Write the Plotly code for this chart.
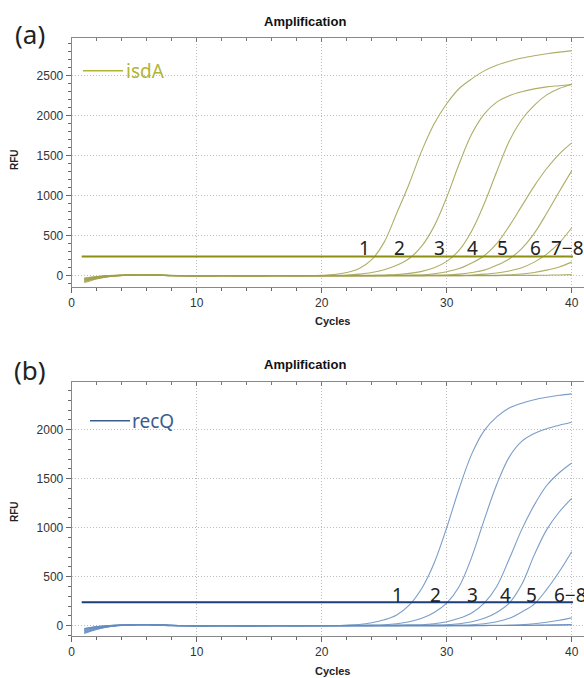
import plotly.graph_objects as go

# ---------------- data ----------------
cycles = list(range(1, 41))

# Panel (a): isdA RFU per cycle, dilutions 1..8
isdA_1 = [-70, -30, -8, 4, 10, 12, 8, 3, 0, -2, -1, 0, -1, -2, -1, 0, 0, -1, 0,
          5, 15, 40, 90, 200, 420, 780, 1150, 1560, 1900, 2150, 2340, 2460, 2560, 2630, 2680, 2720, 2750, 2775, 2795, 2810]
isdA_2 = [-45, -18, -2, 6, 11, 11, 7, 2, 0, -1, 0, 1, 0, -1, 0, 1, 0, 0, 1,
          2, 4, 8, 20, 40, 75, 130, 215, 370, 620, 980, 1400, 1770, 2020, 2170, 2250, 2300, 2335, 2360, 2375, 2390]
isdA_3 = [-85, -40, -12, 2, 9, 13, 9, 4, 1, -2, -2, -1, -2, -3, -2, -1, -1, -2, -1,
          0, 1, 2, 4, 7, 10, 15, 30, 55, 100, 180, 320, 560, 900, 1300, 1680, 1950, 2130, 2260, 2340, 2390]
isdA_4 = [-30, -10, 2, 8, 12, 10, 6, 1, -1, -1, 1, 1, 1, 0, 1, 1, 1, 1, 1,
          0, 0, 1, 1, 2, 3, 5, 7, 10, 25, 50, 90, 160, 250, 400, 620, 870, 1120, 1340, 1520, 1660]
isdA_5 = [-60, -25, -5, 5, 11, 12, 8, 3, 0, -1, -1, 0, -1, -1, -1, 0, 0, 0, 0,
          0, 0, 0, 1, 1, 2, 3, 4, 6, 8, 10, 20, 40, 70, 130, 210, 340, 530, 780, 1050, 1310]
isdA_6 = [-50, -20, -3, 6, 10, 11, 7, 2, 0, -1, 0, 0, 0, -1, 0, 0, 0, 0, 0,
          0, 0, 0, 0, 1, 1, 1, 2, 2, 3, 4, 6, 10, 20, 35, 60, 100, 170, 270, 410, 600]
isdA_7 = [-75, -35, -10, 3, 9, 12, 8, 3, 0, -2, -2, -1, -1, -2, -2, -1, -1, -1, -1,
          -1, -1, 0, 0, 0, 0, 0, 1, 1, 1, 2, 2, 3, 4, 5, 12, 22, 40, 70, 110, 170]
isdA_8 = [-35, -12, 1, 7, 11, 10, 6, 1, -1, -1, 0, 1, 0, 0, 0, 0, 0, 0, 0,
          0, 0, 0, 0, 0, 0, 0, 0, 0, 1, 1, 1, 1, 2, 2, 3, 4, 5, 7, 10, 14]

# Panel (b): recQ RFU per cycle, dilutions 1..8
recQ_1 = [-65, -28, -7, 4, 9, 11, 8, 3, 0, -2, -1, 0, -1, -2, -1, 0, 0, -1, 0,
          0, 1, 5, 12, 30, 60, 110, 210, 380, 640, 1000, 1400, 1750, 1990, 2130, 2220, 2270, 2305, 2330, 2350, 2365]
recQ_2 = [-40, -15, -1, 6, 10, 10, 7, 2, 0, -1, 0, 1, 0, -1, 0, 1, 0, 0, 1,
          1, 2, 3, 5, 7, 10, 20, 40, 75, 135, 230, 400, 700, 1080, 1440, 1720, 1880, 1960, 2010, 2045, 2075]
recQ_3 = [-80, -38, -11, 2, 8, 12, 9, 4, 1, -2, -2, -1, -2, -3, -2, -1, -1, -2, -1,
          0, 0, 1, 2, 3, 4, 6, 8, 10, 20, 40, 75, 130, 230, 400, 680, 980, 1230, 1430, 1560, 1660]
recQ_4 = [-28, -9, 2, 8, 11, 10, 6, 1, -1, -1, 1, 1, 1, 0, 1, 1, 1, 1, 1,
          0, 0, 0, 1, 1, 2, 3, 4, 5, 7, 10, 20, 40, 75, 135, 230, 420, 720, 980, 1160, 1300]
recQ_5 = [-55, -22, -4, 5, 10, 11, 8, 3, 0, -1, -1, 0, -1, -1, -1, 0, 0, 0, 0,
          0, 0, 0, 0, 1, 1, 1, 2, 2, 3, 4, 6, 10, 20, 40, 75, 140, 220, 370, 550, 755]
recQ_6 = [-48, -19, -3, 6, 10, 10, 7, 2, 0, -1, 0, 0, 0, -1, 0, 0, 0, 0, 0,
          0, 0, 0, 0, 0, 0, 0, 1, 1, 1, 1, 2, 2, 3, 4, 5, 10, 20, 35, 55, 80]
recQ_7 = [-72, -33, -9, 3, 9, 11, 8, 3, 0, -2, -2, -1, -1, -2, -2, -1, -1, -1, -1,
          -1, -1, 0, 0, 0, 0, 0, 0, 0, 1, 1, 1, 1, 2, 2, 3, 4, 5, 7, 9, 12]
recQ_8 = [-32, -11, 1, 7, 10, 10, 6, 1, -1, -1, 0, 1, 0, 0, 0, 0, 0, 0, 0,
          0, 0, 0, 0, 0, 0, 0, 0, 0, 0, 1, 1, 1, 1, 2, 2, 3, 4, 5, 6, 8]

threshold_a = 240
threshold_b = 240
threshold_span = [0.8, 40.1]

labels_a = ["1", "2", "3", "4", "5", "6", "7\u22128"]
labels_b = ["1", "2", "3", "4", "5", "6\u22128"]

x_ticks = [0, 10, 20, 30, 40]

# ---------------- layout helpers ----------------
W, H = 584, 678
label_x_a = [23.4, 26.2, 29.4, 32.1, 34.5, 37.1, 39.7]
label_x_b = [26.1, 29.1, 32.1, 34.7, 36.8, 39.9]
label_y_a = 345
label_y_b = 315

def py(pix):
    return 1 - pix / H

def px(pix):
    return pix / W

col_a_curve = "rgba(160,160,75,0.85)"
col_a_thr = "#8e8e12"
col_a_txt = "#b3b336"
col_b_curve = "rgba(100,140,192,0.85)"
col_b_thr = "#1e3d7b"
col_b_txt = "#3d5c8e"

fig = go.Figure()

series_a = [isdA_1, isdA_2, isdA_3, isdA_4, isdA_5, isdA_6, isdA_7, isdA_8]
series_b = [recQ_1, recQ_2, recQ_3, recQ_4, recQ_5, recQ_6, recQ_7, recQ_8]

for s in series_a:
    fig.add_trace(go.Scatter(x=cycles, y=s, mode="lines", line=dict(color=col_a_curve, width=1.1, shape="spline"),
                             xaxis="x", yaxis="y", showlegend=False, hoverinfo="skip"))
fig.add_trace(go.Scatter(x=threshold_span, y=[threshold_a, threshold_a], mode="lines",
                         line=dict(color=col_a_thr, width=2), xaxis="x", yaxis="y", showlegend=False))
for s in series_b:
    fig.add_trace(go.Scatter(x=cycles, y=s, mode="lines", line=dict(color=col_b_curve, width=1.1, shape="spline"),
                             xaxis="x2", yaxis="y2", showlegend=False, hoverinfo="skip"))
fig.add_trace(go.Scatter(x=threshold_span, y=[threshold_b, threshold_b], mode="lines",
                         line=dict(color=col_b_thr, width=2), xaxis="x2", yaxis="y2", showlegend=False))
# dummy traces so the top tick axes are drawn
fig.add_trace(go.Scatter(x=[None], y=[None], xaxis="x3", yaxis="y", showlegend=False))
fig.add_trace(go.Scatter(x=[None], y=[None], xaxis="x4", yaxis="y2", showlegend=False))

tickfont = dict(family="Liberation Sans, Arial", size=12, color="#333")
xr = [0, (W - 71.7) / 12.5]
xdom = [px(71.7), 1.0]
grid_dash = "1px,2px"
grid_col = "#bdbdbd"

def xaxis_common(anchor):
    return dict(domain=xdom, range=xr, anchor=anchor, tickvals=x_ticks, ticks="outside", ticklen=5,
                tickcolor="#666", tickfont=tickfont, showline=True, linecolor="#888", linewidth=1,
                showgrid=True, gridcolor=grid_col, griddash=grid_dash, gridwidth=1, zeroline=False,
                automargin=False,
                minor=dict(dtick=2, ticks="outside", ticklen=3, tickcolor="#666", showgrid=False))

def xaxis_top(over, anchor):
    return dict(overlaying=over, side="top", anchor=anchor, domain=xdom, range=xr, tickvals=x_ticks,
                ticks="inside", ticklen=4, tickcolor="#777", showticklabels=False, showline=True,
                linecolor="#888", linewidth=1, showgrid=False, zeroline=False, automargin=False,
                minor=dict(dtick=2, ticks="inside", ticklen=3, tickcolor="#777", showgrid=False))

def yaxis_common(anchor, dom, rng):
    return dict(domain=dom, range=rng, anchor=anchor, dtick=500, tick0=0, ticks="outside", ticklen=5,
                tickcolor="#666", tickfont=tickfont, showline=True, linecolor="#888", linewidth=1,
                showgrid=True, gridcolor=grid_col, griddash=grid_dash, gridwidth=1, zeroline=False,
                automargin=False,
                minor=dict(dtick=100, ticks="outside", ticklen=3, tickcolor="#666", showgrid=False))

fig.update_layout(
    width=W, height=H, margin=dict(l=0, r=0, t=0, b=0, autoexpand=False),
    paper_bgcolor="white", plot_bgcolor="white",
    xaxis=xaxis_common("y"),
    yaxis=yaxis_common("x", [py(286.7), py(38)], [-137, 2971]),
    xaxis2=xaxis_common("y2"),
    yaxis2=yaxis_common("x2", [py(636), py(382)], [-105, 2486]),
    xaxis3=xaxis_top("x", "y"),
    xaxis4=xaxis_top("x2", "y2"),
)

ann = []
def A(text, x, y, size, color="#222", bold=False, family="Liberation Sans, Arial", angle=0, xanchor="center", xref="paper", yref="paper"):
    ann.append(dict(text=("<b>%s</b>" % text) if bold else text, x=x, y=y, xref=xref, yref=yref,
                    showarrow=False, font=dict(size=size, color=color, family=family), textangle=angle,
                    xanchor=xanchor, yanchor="middle"))

# panel letters
A("(a)", px(30), py(34), 26, color="#222", family="Noto Sans")
A("(b)", px(30), py(370), 26, color="#222", family="Noto Sans")
# titles
A("Amplification", px(305), py(21), 13, color="#111", bold=True)
A("Amplification", px(305), py(364), 13, color="#111", bold=True)
A("Cycles", px(332), py(321), 11, color="#222", bold=True)
A("Cycles", px(332), py(671), 11, color="#222", bold=True)
A("RFU", px(14), py(160), 10, color="#222", bold=True, angle=-90)
A("RFU", px(14), py(512), 10, color="#222", bold=True, angle=-90)
# legend text
A("isdA", px(124), py(71), 19, color=col_a_txt, family="Noto Sans", xanchor="left")
A("recQ", px(130), py(421), 19, color=col_b_txt, family="Noto Sans", xanchor="left")
# curve labels
for t, xv in zip(labels_a, label_x_a):
    A(t, xv, label_y_a, 19, color="#222", family="Noto Sans", xref="x", yref="y")
for t, xv in zip(labels_b, label_x_b):
    A(t, xv, label_y_b, 19, color="#222", family="Noto Sans", xref="x2", yref="y2")

fig.update_layout(annotations=ann)

fig.update_layout(shapes=[
    dict(type="line", xref="paper", yref="paper", x0=px(83), x1=px(123), y0=py(70.7), y1=py(70.7),
         line=dict(color=col_a_txt, width=1.5)),
    dict(type="line", xref="paper", yref="paper", x0=px(90), x1=px(130), y0=py(420.7), y1=py(420.7),
         line=dict(color=col_b_txt, width=1.5)),
])

fig.write_html("out.html", config={"displayModeBar": False},
               post_script="document.body.style.margin='0';document.body.style.overflow='hidden';")
